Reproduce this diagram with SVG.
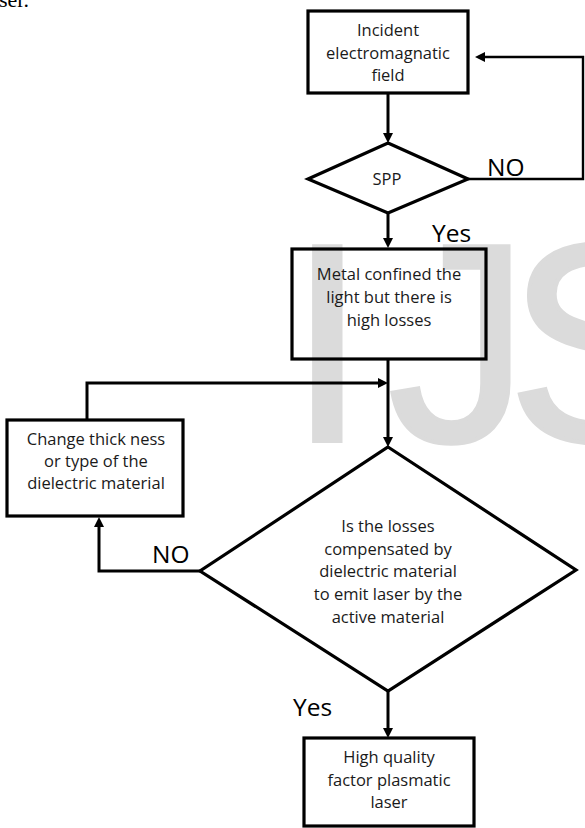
<svg xmlns="http://www.w3.org/2000/svg" width="585" height="828" viewBox="0 0 585 828">
<style>
.bg{fill:#ffffff}
.wm{font-family:"Liberation Sans",Arial,sans-serif;font-size:283px;fill:#dbdbdb;stroke:#dbdbdb;stroke-width:4}
.node{fill:none;stroke:#000;stroke-width:3.2}
.t{font-family:"Open Sans","Liberation Sans",sans-serif;font-size:16.5px;fill:#1a1a1a;text-anchor:middle}
.lbl{font-family:"Open Sans","Liberation Sans",sans-serif;font-size:24.5px;fill:#000}
.c{fill:none;stroke:#000;stroke-width:3}
.cthin{fill:none;stroke:#000;stroke-width:2.4}
.page{font-family:"Liberation Serif","Times New Roman",serif;font-size:22px;fill:#000}
</style>
<defs>
<marker id="ah" markerUnits="userSpaceOnUse" viewBox="0 0 10 10" markerWidth="10" markerHeight="10" refX="6" refY="5" orient="auto">
<path d="M0,0 L10,5 L0,10 z" fill="#000"/>
</marker>
</defs>
<rect class="bg" x="0" y="0" width="585" height="828"/>
<g id="watermark">
<text class="wm" x="288" y="441">I</text>
<text class="wm" x="388" y="441">J</text>
<text class="wm" x="507" y="441">S</text>
</g>
<text class="page" x="-1" y="7">ser.</text>
<g id="connectors">
<path class="c" d="M388,93 L388,139" marker-end="url(#ah)"/>
<path class="cthin" d="M468,179 L583,179 L583,57 L479,57" marker-end="url(#ah)"/>
<path class="c" d="M388,213 L388,244" marker-end="url(#ah)"/>
<path class="c" d="M388,359 L388,443" marker-end="url(#ah)"/>
<path class="c" d="M87,420 L87,383 L384,383" marker-end="url(#ah)"/>
<path class="c" d="M200,571 L99,571 L99,521" marker-end="url(#ah)"/>
<path class="c" d="M388,691 L388,734" marker-end="url(#ah)"/>
<text class="lbl" x="487" y="176">NO</text>
<text class="lbl" x="432" y="242">Yes</text>
<text class="lbl" x="152" y="563">NO</text>
<text class="lbl" x="293" y="716">Yes</text>
</g>
<g id="incident">
<rect class="node" x="308" y="11" width="160" height="82"/>
<text class="t" x="388" y="36">Incident</text>
<text class="t" x="388" y="58.5">electromagnatic</text>
<text class="t" x="388" y="81">field</text>
</g>
<g id="spp">
<path class="node" d="M388,143 L468,179 L388,213 L308,179 z"/>
<text class="t" x="387" y="185">SPP</text>
</g>
<g id="metal">
<rect class="node" x="292" y="249" width="194" height="110"/>
<text class="t" x="389" y="280">Metal confined the</text>
<text class="t" x="389" y="303">light but there is</text>
<text class="t" x="389" y="326">high losses</text>
</g>
<g id="change">
<rect class="node" x="7" y="420" width="176" height="96"/>
<text class="t" x="96" y="445">Change thick ness</text>
<text class="t" x="96" y="467">or type of the</text>
<text class="t" x="96" y="489">dielectric material</text>
</g>
<g id="losses">
<path class="node" d="M388,447 L576,570 L388,691 L200,571 z"/>
<text class="t" x="388" y="532">Is the losses</text>
<text class="t" x="388" y="555">compensated by</text>
<text class="t" x="388" y="577">dielectric material</text>
<text class="t" x="388" y="600">to emit laser by the</text>
<text class="t" x="388" y="623">active material</text>
</g>
<g id="laser">
<rect class="node" x="304" y="738" width="170" height="88"/>
<text class="t" x="389" y="763">High quality</text>
<text class="t" x="389" y="786">factor plasmatic</text>
<text class="t" x="389" y="808">laser</text>
</g>
</svg>
